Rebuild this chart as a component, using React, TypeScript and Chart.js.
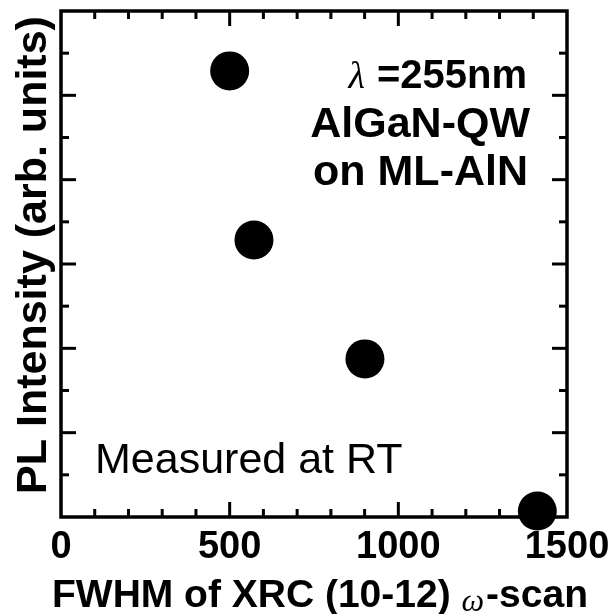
import React, { useEffect, useRef } from 'react';
import { Chart, registerables } from 'chart.js';

Chart.register(...registerables);

// ---- data ----
const fwhm = [500, 572, 901, 1412];
const plIntensity = [10.58, 6.57, 3.75, 0.14];
const xTickLabels = [0, 500, 1000, 1500];
const xRange = [0, 1500];
const xMinorStep = 100;
const xMajorStep = 500;
const yRange = [0, 12];
const yMinorStep = 1;
const yMajorStep = 2;

const xTitleBefore = 'FWHM of XRC (10-12) ';
const xTitleSymbol = 'ω';
const xTitleAfter = '-scan';
const yTitle = 'PL Intensity (arb. units)';
const lambdaSymbol = 'λ';
const lambdaText = '=255nm';
const sampleLines = ['AlGaN-QW', 'on ML-AlN'];
const measuredText = 'Measured at RT';

const SANS = '"Liberation Sans", Arial, sans-serif';
const SERIF = '"Liberation Serif", "Times New Roman", serif';

const framePlugin = {
  id: 'frameTicks',
  beforeDatasetsDraw(chart: any) {
    const { ctx, chartArea, scales } = chart;
    const { left, right, top, bottom } = chartArea;
    const x = scales.x;
    const y = scales.y;
    ctx.save();
    ctx.strokeStyle = '#000';
    ctx.lineCap = 'butt';
    ctx.lineWidth = 3;
    const line = (x1: number, y1: number, x2: number, y2: number) => {
      ctx.beginPath();
      ctx.moveTo(x1, y1);
      ctx.lineTo(x2, y2);
      ctx.stroke();
    };
    for (let v = xRange[0] + xMinorStep; v < xRange[1]; v += xMinorStep) {
      const px = x.getPixelForValue(v);
      const len = v % xMajorStep === 0 ? 15 : 8;
      line(px, bottom, px, bottom - len);
      line(px, top, px, top + len);
    }
    for (let v = yRange[0] + yMinorStep; v < yRange[1]; v += yMinorStep) {
      const py = y.getPixelForValue(v);
      const len = v % yMajorStep === 0 ? 15 : 8;
      line(left, py, left + len, py);
      line(right, py, right - len, py);
    }
    ctx.lineWidth = 3.5;
    ctx.strokeRect(left, top, right - left, bottom - top);
    ctx.restore();
  },
};

const textPlugin = {
  id: 'texts',
  afterDraw(chart: any) {
    const { ctx } = chart;
    ctx.save();
    ctx.fillStyle = '#000';
    ctx.textBaseline = 'alphabetic';

    // x title with omega
    const bold40 = `bold 39px ${SANS}`;
    ctx.font = bold40;
    ctx.textAlign = 'left';
    let cx = 52;
    const baseX = 607;
    ctx.fillText(xTitleBefore, cx, baseX);
    cx += ctx.measureText(xTitleBefore).width;
    ctx.font = `italic 32px ${SERIF}`;
    ctx.fillText(xTitleSymbol, cx, baseX + 4);
    cx += ctx.measureText(xTitleSymbol).width + 2;
    ctx.font = bold40;
    ctx.fillText(xTitleAfter, cx, baseX);

    // y title rotated
    ctx.save();
    ctx.translate(46, 255);
    ctx.rotate(-Math.PI / 2);
    ctx.font = `bold 43px ${SANS}`;
    ctx.textAlign = 'center';
    ctx.fillText(yTitle, 0, 0);
    ctx.restore();

    // lambda line
    ctx.textAlign = 'right';
    ctx.font = `bold 40px ${SANS}`;
    ctx.fillText(lambdaText, 527, 88);
    const w = ctx.measureText(lambdaText).width;
    ctx.font = `italic 38px ${SERIF}`;
    ctx.fillText(lambdaSymbol, 527 - w - 12, 88);

    // sample lines
    ctx.font = `bold 43px ${SANS}`;
    ctx.fillText(sampleLines[0], 530, 137);
    ctx.fillText(sampleLines[1], 528, 185);

    // measured
    ctx.textAlign = 'left';
    ctx.font = `43px ${SANS}`;
    ctx.fillText(measuredText, 95, 473);
    ctx.restore();
  },
};

export default function App() {
  const ref = useRef<HTMLCanvasElement>(null);
  useEffect(() => {
    document.body.style.margin = '0';
    const canvas = ref.current!;
    const chart = new Chart(canvas, {
      type: 'scatter',
      data: {
        datasets: [
          {
            data: fwhm.map((x, i) => ({ x, y: plIntensity[i] })),
            backgroundColor: '#000',
            borderColor: '#000',
            borderWidth: 0,
            pointRadius: 19.5,
            pointHoverRadius: 19.5,
            clip: false as any,
          },
        ],
      },
      options: {
        responsive: false,
        animation: false,
        devicePixelRatio: 1,
        events: [],
        layout: { autoPadding: false, padding: { left: 61, top: 11, right: 45, bottom: 0 } },
        plugins: { legend: { display: false }, tooltip: { enabled: false } },
        scales: {
          x: {
            type: 'linear',
            min: xRange[0],
            max: xRange[1],
            grid: { display: false, drawTicks: false },
            border: { display: false },
            ticks: {
              font: { family: SANS, size: 38, weight: 'bold' },
              color: '#000',
              padding: 8,
              maxRotation: 0,
              autoSkip: false,
              callback: (v: any) => String(v),
            },
            afterBuildTicks: (s: any) => {
              s.ticks = xTickLabels.map((v) => ({ value: v }));
            },
            afterFit: (s: any) => {
              s.height = 97;
              s.paddingLeft = 0;
              s.paddingRight = 0;
            },
          },
          y: {
            type: 'linear',
            min: yRange[0],
            max: yRange[1],
            display: false,
          },
        },
      },
      plugins: [framePlugin, textPlugin],
    });
    return () => chart.destroy();
  }, []);
  return (
    <div style={{ width: 612, height: 614 }}>
      <canvas ref={ref} width={612} height={614} style={{ display: 'block' }} />
    </div>
  );
}
